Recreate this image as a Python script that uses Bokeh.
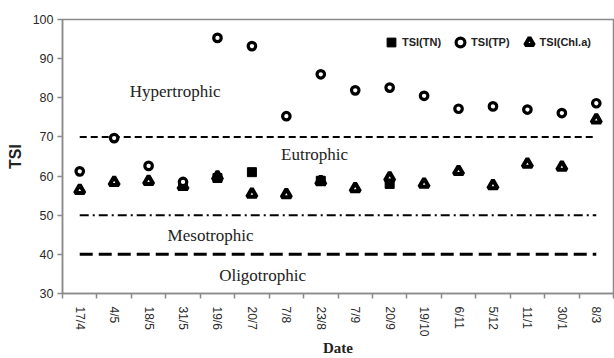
import numpy as np
from bokeh.plotting import figure
from bokeh.models import FixedTicker, Range1d, Legend, LegendItem, Label
from bokeh.embed import file_html
from bokeh.resources import INLINE

# Sampling dates and trophic state index values
dates = ["17/4", "4/5", "18/5", "31/5", "19/6", "20/7", "7/8", "23/8",
         "7/9", "20/9", "19/10", "6/11", "5/12", "11/1", "30/1", "8/3"]
nan = float("nan")
tsi_tn = [nan, nan, nan, 57.5, 59.5, 61.0, nan, 58.8,
          nan, 58.0, nan, nan, nan, nan, nan, nan]
tsi_tp = [61.2, 69.7, 62.6, 58.5, 95.3, 93.2, 75.3, 86.0,
          81.9, 82.6, 80.5, 77.2, 77.8, 77.0, 76.1, 78.6]
tsi_chla = [56.4, 58.4, 58.7, 57.4, 59.8, 55.4, 55.3, 58.6,
            56.8, 59.6, 58.0, 61.2, 57.6, 63.1, 62.3, 74.4]

# Trophic class boundaries and zone names
thresholds = [70, 50, 40]
zones = ["Hypertrophic", "Eutrophic", "Mesotrophic", "Oligotrophic"]

x = np.arange(len(dates)) + 0.5

p = figure(width=614, height=358, output_backend="svg", toolbar_location=None,
           x_range=Range1d(0, len(dates)), y_range=Range1d(30, 100))
p.min_border_left = 62
p.min_border_right = 1
p.min_border_top = 19
p.min_border_bottom = 63
p.background_fill_color = "white"
p.border_fill_color = "white"
p.outline_line_color = "#8a8a8a"
p.outline_line_width = 1.5
p.grid.visible = False

sans = "Liberation Sans"
serif = "Liberation Serif"

# x axis: labels at category centres, ticks at category boundaries
xa = p.xaxis[0]
xa.ticker = FixedTicker(ticks=list(x), minor_ticks=list(range(len(dates) + 1)))
xa.major_label_overrides = {float(v): d for v, d in zip(x, dates)}
xa.major_label_orientation = "vertical"
xa.major_tick_out = 0
xa.major_tick_in = 0
xa.minor_tick_out = 5
xa.minor_tick_in = 0
xa.minor_tick_line_color = "#8a8a8a"
xa.minor_tick_line_width = 1.5
xa.axis_line_color = "#8a8a8a"
xa.axis_line_width = 1.5
xa.major_label_text_font = sans
xa.major_label_text_font_size = "12px"
xa.major_label_text_color = "#2a2a2a"
xa.major_label_standoff = 8
xa.axis_label = "Date"
xa.axis_label_text_font = serif
xa.axis_label_text_font_style = "bold"
xa.axis_label_text_font_size = "15px"
xa.axis_label_text_color = "#222222"
xa.axis_label_standoff = 0

ya = p.yaxis[0]
ya.ticker = FixedTicker(ticks=list(range(30, 101, 10)))
ya.minor_tick_line_color = None
ya.major_tick_out = 5
ya.major_tick_in = 0
ya.major_tick_line_color = "#8a8a8a"
ya.major_tick_line_width = 1.5
ya.axis_line_color = "#8a8a8a"
ya.axis_line_width = 1.5
ya.major_label_text_font = sans
ya.major_label_text_font_size = "12.5px"
ya.major_label_text_color = "#2a2a2a"
ya.major_label_standoff = 4
ya.axis_label = "TSI"
ya.axis_label_text_font = sans
ya.axis_label_text_font_style = "bold"
ya.axis_label_text_font_size = "16px"
ya.axis_label_text_color = "#222222"
ya.axis_label_standoff = 6

# Class boundary lines
styles = [("7 4", 2), ("9 4 2 4", 2), ("13 6", 3)]
for t, (dash, w) in zip(thresholds, styles):
    p.line([x[0], x[-1]], [t, t], line_color="black", line_width=w, line_dash=dash)

# Zone names
zone_pos = [(3.27, 81.7), (7.32, 65.6), (4.30, 44.9), (5.81, 34.7)]
for name, (zx, zy) in zip(zones, zone_pos):
    p.add_layout(Label(x=zx, y=zy, text=name, text_font=serif, text_font_size="17px",
                       text_align="center", text_baseline="middle", text_color="#222222"))

r_chla = p.scatter(x, tsi_chla, marker="triangle", size=9.5, fill_color="white",
                   line_color="black", line_width=4)
r_tn = p.scatter(x, tsi_tn, marker="square", size=9, fill_color="black",
                 line_color="black", line_width=1)
r_tp = p.scatter(x, tsi_tp, marker="circle", size=7.5, fill_color="white",
                 line_color="black", line_width=3.2)

legend = Legend(items=[LegendItem(label="TSI(TN)", renderers=[r_tn]),
                       LegendItem(label="TSI(TP)", renderers=[r_tp]),
                       LegendItem(label="TSI(Chl.a)", renderers=[r_chla])],
                orientation="horizontal", location=(318, 240))
legend.background_fill_alpha = 0
legend.border_line_color = None
legend.label_text_font = sans
legend.label_text_font_style = "bold"
legend.label_text_font_size = "11px"
legend.label_text_color = "#222222"
legend.glyph_width = 22
legend.glyph_height = 22
legend.label_height = 22
legend.label_standoff = -4
legend.spacing = 8
legend.padding = 0
legend.margin = 0
p.add_layout(legend)

open("out.html", "w").write(file_html(p, INLINE))
